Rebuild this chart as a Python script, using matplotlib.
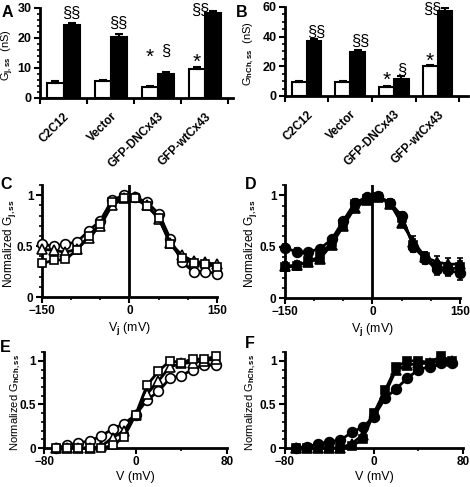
import numpy as np
import matplotlib
matplotlib.use('Agg')
import matplotlib.pyplot as plt
from matplotlib.ticker import MultipleLocator, FixedLocator

plt.rcParams['font.family'] = ['Liberation Sans', 'DejaVu Sans']
plt.rcParams['font.weight'] = 'bold'
plt.rcParams['mathtext.fontset'] = 'custom'
plt.rcParams['mathtext.rm'] = 'Liberation Sans:bold'
plt.rcParams['mathtext.it'] = 'Liberation Sans:bold'
plt.rcParams['mathtext.bf'] = 'Liberation Sans:bold'

# bar data
groups = ['C2C12', 'Vector', 'GFP-DNCx43', 'GFP-wtCx43']
gj_open = [5.0, 5.7, 3.5, 9.7]
gj_open_err = [0.5, 0.4, 0.4, 0.6]
gj_fill = [24.2, 20.3, 7.9, 28.3]
gj_fill_err = [0.7, 0.9, 0.7, 0.5]
gh_open = [9.2, 9.2, 6.0, 20.0]
gh_open_err = [0.8, 0.8, 0.8, 1.0]
gh_fill = [37.0, 29.5, 11.5, 57.5]
gh_fill_err = [1.0, 1.5, 1.8, 2.0]
open_marks = ['', '', '*', '*']
fill_marks = ['§§', '§§', '§', '§§']

# Vj curves (C open, D filled)
vj = [-150, -130, -110, -90, -70, -50, -30, -10, 10, 30, 50, 70, 90, 110, 130, 150]
c_circle = [0.52, 0.50, 0.52, 0.54, 0.65, 0.75, 0.95, 1.0, 0.98, 0.93, 0.82, 0.57, 0.34, 0.25, 0.25, 0.23]
c_triangle = [0.47, 0.46, 0.44, 0.47, 0.58, 0.70, 0.90, 0.97, 0.98, 0.90, 0.77, 0.53, 0.41, 0.35, 0.34, 0.32]
c_square = [0.33, 0.36, 0.37, 0.46, 0.60, 0.72, 0.93, 0.97, 0.97, 0.89, 0.78, 0.52, 0.38, 0.33, 0.32, 0.30]
d_circle = [0.49, 0.45, 0.45, 0.48, 0.57, 0.75, 0.93, 0.98, 0.99, 0.93, 0.80, 0.50, 0.38, 0.28, 0.27, 0.24]
d_triangle = [0.31, 0.32, 0.35, 0.38, 0.52, 0.70, 0.88, 0.95, 0.98, 0.92, 0.73, 0.55, 0.40, 0.35, 0.33, 0.33]
d_square = [0.30, 0.31, 0.36, 0.40, 0.55, 0.72, 0.92, 0.96, 0.98, 0.92, 0.78, 0.52, 0.40, 0.30, 0.28, 0.30]
d_err = [0.04, 0.04, 0.03, 0.03, 0.03, 0.03, 0.03, 0.03, 0.02, 0.03, 0.04, 0.05, 0.05, 0.06, 0.06, 0.06]

# V curves (E open, F filled)
vm = [-70, -60, -50, -40, -30, -20, -10, 0, 10, 20, 30, 40, 50, 60, 70]
e_circle = [0.0, 0.03, 0.06, 0.08, 0.14, 0.22, 0.28, 0.38, 0.55, 0.65, 0.80, 0.83, 0.90, 0.95, 0.95]
e_triangle = [0.0, 0.0, 0.0, 0.0, 0.02, 0.12, 0.20, 0.38, 0.62, 0.77, 0.93, 0.97, 0.98, 1.0, 1.02]
e_square = [0.0, 0.0, 0.0, 0.0, 0.0, 0.03, 0.13, 0.38, 0.72, 0.88, 1.0, 0.98, 1.02, 1.02, 1.05]
f_circle = [0.0, 0.01, 0.05, 0.07, 0.09, 0.18, 0.24, 0.36, 0.57, 0.68, 0.80, 0.90, 0.93, 0.97, 0.97]
f_triangle = [0.0, 0.0, 0.0, 0.0, 0.0, 0.05, 0.15, 0.38, 0.62, 0.90, 0.95, 0.97, 0.97, 1.0, 1.0]
f_square = [0.0, 0.0, 0.0, 0.0, 0.0, 0.02, 0.10, 0.40, 0.66, 0.93, 1.0, 1.0, 0.98, 1.05, 1.0]

fig = plt.figure(figsize=(4.7, 4.87), dpi=100)


def style_axes(ax, labelsize=9):
    for s in ['top', 'right']:
        ax.spines[s].set_visible(False)
    for s in ['left', 'bottom']:
        ax.spines[s].set_linewidth(2)
    ax.tick_params(which='major', direction='out', length=4, width=1.5, labelsize=labelsize, pad=2)
    ax.tick_params(which='minor', direction='out', length=2.5, width=1.2)


def bar_panel(rect, opn, opn_err, fil, fil_err, ymax, ymaj, ymin, xmax, ylabel, lab_x, letter, lpos,
              star_y, sect_y, sect_dx):
    ax = fig.add_axes(rect)
    x = np.arange(len(groups))
    w = 0.34
    ekw = dict(ecolor='black', elinewidth=1.5, capsize=3, capthick=1.5)
    ax.bar(x - w / 2, opn, w, color='white', edgecolor='black', linewidth=1.5,
           yerr=[np.zeros(4), opn_err], error_kw=ekw)
    ax.bar(x + w / 2, fil, w, color='black', edgecolor='black', linewidth=1.5,
           yerr=[np.zeros(4), fil_err], error_kw=ekw)
    for i in range(4):
        if open_marks[i]:
            ax.text(x[i] - w / 2, star_y[i], open_marks[i], ha='center', va='center',
                    fontsize=15, fontweight='normal', clip_on=False)
        if fill_marks[i]:
            ax.text(x[i] + w / 2 + sect_dx[i], sect_y[i], fill_marks[i], ha='center', va='center',
                    fontsize=12, fontweight='normal', clip_on=False)
    ax.set_xlim(-0.5, xmax)
    ax.set_ylim(0, ymax)
    style_axes(ax)
    ax.yaxis.set_major_locator(MultipleLocator(ymaj))
    ax.yaxis.set_minor_locator(MultipleLocator(ymin))
    ax.set_xticks(x)
    ax.set_xticklabels(groups, rotation=45, ha='right', rotation_mode='anchor', fontsize=8.5)
    ax.tick_params(axis='x', which='major', length=0, pad=9)
    ax.xaxis.set_minor_locator(FixedLocator([-0.5, 0.5, 1.5, 2.5, 3.5]))
    ax.tick_params(axis='x', which='minor', length=4, width=1.5)
    ax.set_ylabel(ylabel, fontsize=8)
    ax.yaxis.set_label_coords(lab_x, 0.48)
    fig.text(lpos[0], lpos[1], letter, fontsize=11.5, fontweight='bold', va='top')
    return ax


bar_panel([0.085, 0.799, 0.411, 0.185], gj_open, gj_open_err, gj_fill, gj_fill_err,
          30, 10, 2, 3.6, r'G$_{\mathrm{j,ss}}$  (nS)', -0.125, 'A', (0.004, 0.99),
          [0, 0, 13.5, 11.7], [28.2, 24.9, 15.6, 29.2], [0, 0, 0, -0.27])
bar_panel([0.606, 0.803, 0.39, 0.183], gh_open, gh_open_err, gh_fill, gh_fill_err,
          60, 20, 5, 3.7, r'G$_{\mathrm{hCh,ss}}$  (nS)', -0.158, 'B', (0.502, 0.99),
          [0, 0, 10.5, 23.5], [42.5, 37.0, 17.5, 58.5], [0.05, 0.05, 0.0, -0.3])


def curve_panel(rect, xs, series, filled, err, xlim, xmaj, xminor, xlabel, ylabel, lab_x, lab_fs,
                letter, lpos, vline=False):
    ax = fig.add_axes(rect)
    markers = ['o', '^', 's']
    sizes = [7, 6.5, 6]
    for ys, m, ms in zip(series, markers, sizes):
        fc = 'black' if filled else 'white'
        if err is not None:
            ax.errorbar(xs, ys, yerr=err, color='black', lw=2, marker=m, ms=ms, mfc=fc, mec='black',
                        mew=1.2, capsize=2.5, elinewidth=1.2, zorder=3, clip_on=False)
        else:
            ax.plot(xs, ys, color='black', lw=2, marker=m, ms=ms, mfc=fc, mec='black', mew=1.2,
                    zorder=3, clip_on=False)
    if vline:
        ax.axvline(0, color='black', lw=2, zorder=2)
    ax.set_xlim(*xlim)
    ax.set_ylim(0, 1.1)
    style_axes(ax, labelsize=8.5)
    ax.set_xticks(xmaj)
    ax.xaxis.set_minor_locator(MultipleLocator(xminor))
    ax.set_yticks([0, 0.5, 1])
    ax.set_yticklabels(['0', '0.5', '1'])
    ax.yaxis.set_minor_locator(MultipleLocator(0.1))
    ax.set_xlabel(xlabel, fontsize=9, labelpad=2)
    ax.set_ylabel(ylabel, fontsize=lab_fs)
    ax.yaxis.set_label_coords(lab_x, 0.48)
    fig.text(lpos[0], lpos[1], letter, fontsize=11.5, fontweight='bold', va='top')
    return ax


curve_panel([0.089, 0.390, 0.373, 0.230], vj, [c_circle, c_triangle, c_square], False, None,
            (-150, 150), [-150, 0, 150], 50, r'V$_\mathrm{j}$ (mV)', r'Normalized G$_{\mathrm{j,ss}}$',
            -0.135, 8.5, 'C', (0.0, 0.637), vline=True)
curve_panel([0.606, 0.388, 0.373, 0.232], vj, [d_circle, d_triangle, d_square], True, d_err,
            (-150, 150), [-150, 0, 150], 50, r'V$_\mathrm{j}$ (mV)', r'Normalized G$_{\mathrm{j,ss}}$',
            -0.15, 8.5, 'D', (0.52, 0.637), vline=True)
curve_panel([0.094, 0.080, 0.389, 0.197], vm, [e_circle, e_triangle, e_square], False, None,
            (-80, 80), [-80, 0, 80], 40, 'V (mV)', r'Normalized G$_{\mathrm{hCh,ss}}$',
            -0.118, 8, 'E', (0.0, 0.302))
curve_panel([0.606, 0.080, 0.379, 0.197], vm, [f_circle, f_triangle, f_square], True, None,
            (-80, 80), [-80, 0, 80], 40, 'V (mV)', r'Normalized G$_{\mathrm{hCh,ss}}$',
            -0.15, 8, 'F', (0.52, 0.31))

fig.savefig('out.png', dpi=100)
